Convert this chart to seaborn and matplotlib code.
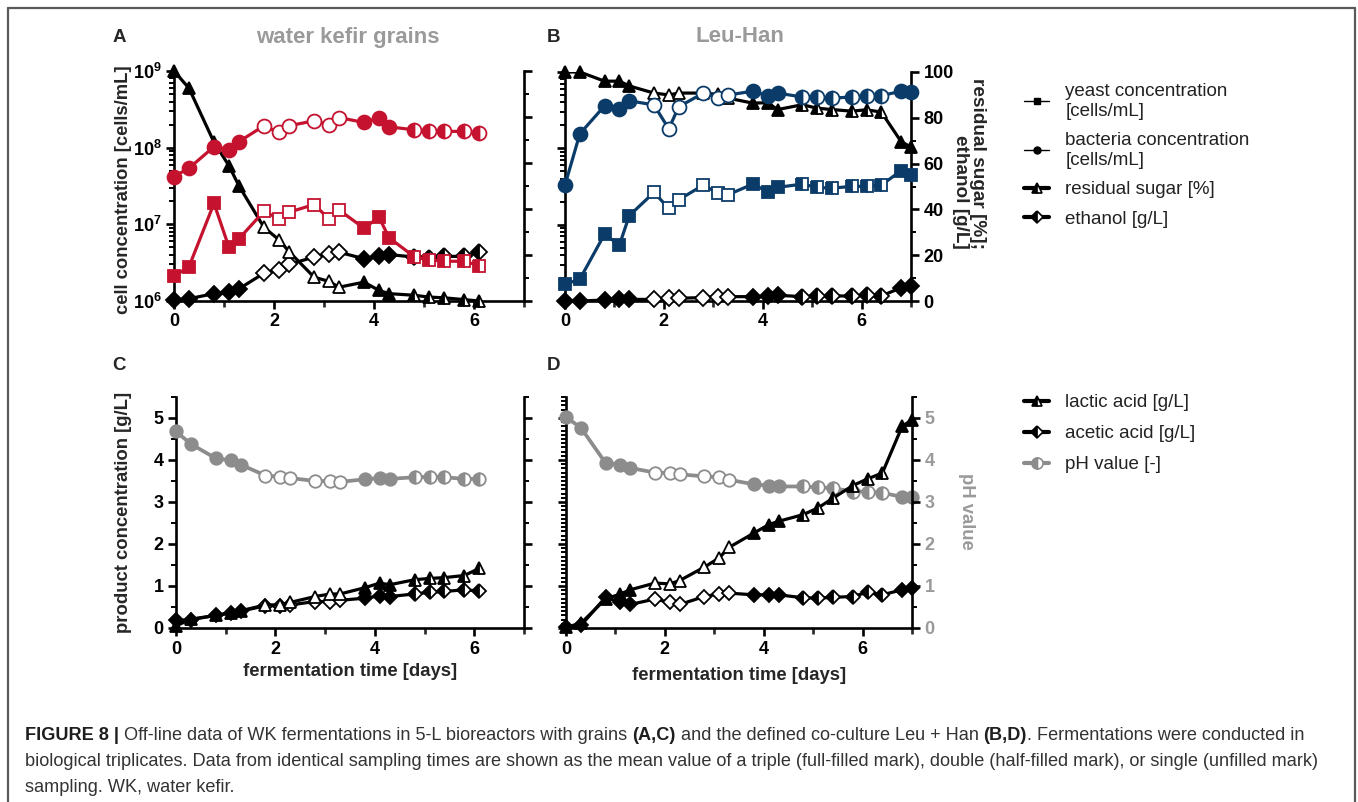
import numpy as np
import pandas as pd
import matplotlib
matplotlib.use("Agg")
import matplotlib.pyplot as plt
import seaborn as sns
from matplotlib.lines import Line2D
from matplotlib.ticker import MultipleLocator, FixedLocator, LogLocator, NullFormatter, FuncFormatter

# ---------------- data ----------------
days_wk = [0, 0.3, 0.8, 1.1, 1.3, 1.8, 2.1, 2.3, 2.8, 3.1, 3.3, 3.8, 4.1, 4.3, 4.8, 5.1, 5.4, 5.8, 6.1]
days_lh = [0, 0.3, 0.8, 1.1, 1.3, 1.8, 2.1, 2.3, 2.8, 3.1, 3.3, 3.8, 4.1, 4.3, 4.8, 5.1, 5.4, 5.8, 6.1, 6.4, 6.8, 7.0]
# F = triple (full), H = double (half), O = single (unfilled)
fill_wk = list("FFFFFOOOOOOFFFHHHHH")
fill_lh = list("FFFFFOOOOOOFFFHHHHHHFF")

wk_yeast = [2.1e6, 2.8e6, 1.88e7, 5.0e6, 6.5e6, 1.48e7, 1.18e7, 1.44e7, 1.81e7, 1.18e7, 1.54e7,
            8.9e6, 1.24e7, 6.7e6, 3.8e6, 3.45e6, 3.3e6, 3.3e6, 2.9e6]
wk_bacteria = [4.2e7, 5.4e7, 1.03e8, 9.4e7, 1.2e8, 1.93e8, 1.58e8, 1.93e8, 2.24e8, 2.0e8, 2.47e8,
               2.13e8, 2.47e8, 1.87e8, 1.71e8, 1.66e8, 1.63e8, 1.63e8, 1.55e8]
wk_sugar = [100, 92.5, 69, 58.8, 50, 32, 26.6, 21.5, 10.4, 8.5, 6, 8.2, 4.6, 3.2, 2.5, 1.7, 1.4, 0.6, 0]
wk_ethanol = [0.3, 1.0, 3.2, 3.9, 5.3, 12.1, 13.3, 15.9, 19.1, 20.5, 21.2, 18.4, 19.4, 20.2, 19.1,
              18.8, 19.4, 19.4, 21.2]

lh_yeast = [1.66e6, 1.93e6, 7.5e6, 5.4e6, 1.31e7, 2.65e7, 1.63e7, 2.12e7, 3.3e7, 2.57e7, 2.47e7,
            3.4e7, 2.7e7, 3.08e7, 3.4e7, 3.08e7, 3.0e7, 3.18e7, 3.18e7, 3.3e7, 5.1e7, 4.5e7]
lh_bacteria = [3.3e7, 1.55e8, 3.6e8, 3.3e8, 4.2e8, 3.7e8, 1.8e8, 3.5e8, 5.3e8, 4.55e8, 5.0e8,
               5.6e8, 4.9e8, 5.3e8, 4.7e8, 4.7e8, 4.55e8, 4.7e8, 4.9e8, 4.9e8, 5.6e8, 5.5e8]
lh_sugar = [100, 100, 96, 96, 93.9, 90.8, 90, 90.8, 90.8, 90.2, 88.6, 86.4, 86.6, 83.6, 85.7, 84.2,
            83.6, 82.9, 83.5, 82.5, 69.6, 67.2]
lh_ethanol = [0, 0, 0.4, 0.7, 0.7, 0.7, 1.5, 1.2, 1.5, 1.9, 1.9, 1.9, 2.2, 2.5, 1.9, 2.2, 2.2, 2.2,
              2.5, 2.2, 5.8, 6.6]

wk_lactic = [0.05, 0.21, 0.30, 0.36, 0.41, 0.55, 0.55, 0.61, 0.75, 0.81, 0.81, 0.96, 1.07, 1.03,
             1.15, 1.18, 1.20, 1.25, 1.42]
wk_acetic = [0.18, 0.20, 0.30, 0.36, 0.40, 0.53, 0.53, 0.55, 0.63, 0.63, 0.66, 0.71, 0.77, 0.75,
             0.81, 0.85, 0.87, 0.91, 0.88]
wk_ph = [4.68, 4.38, 4.04, 3.99, 3.89, 3.63, 3.60, 3.57, 3.50, 3.50, 3.48, 3.54, 3.57, 3.55, 3.59,
         3.60, 3.59, 3.55, 3.55]

lh_lactic = [0.02, 0.11, 0.69, 0.81, 0.91, 1.07, 1.05, 1.13, 1.45, 1.67, 1.92, 2.26, 2.46, 2.54,
             2.70, 2.86, 3.09, 3.39, 3.55, 3.69, 4.80, 4.96]
lh_acetic = [0.02, 0.06, 0.73, 0.61, 0.56, 0.69, 0.61, 0.56, 0.75, 0.81, 0.83, 0.79, 0.79, 0.79,
             0.72, 0.71, 0.73, 0.75, 0.85, 0.79, 0.91, 0.95]
lh_ph = [5.02, 4.77, 3.93, 3.89, 3.81, 3.70, 3.69, 3.66, 3.61, 3.59, 3.53, 3.42, 3.39, 3.37, 3.37,
         3.35, 3.33, 3.25, 3.25, 3.22, 3.12, 3.12]

legend_top = ["yeast concentration\n[cells/mL]", "bacteria concentration\n[cells/mL]",
              "residual sugar [%]", "ethanol [g/L]"]
legend_bottom = ["lactic acid [g/L]", "acetic acid [g/L]", "pH value [-]"]
titles = ["water kefir grains", "Leu-Han"]
panel_labels = ["A", "B", "C", "D"]

# ---------------- style ----------------
sns.set_theme(style="ticks")
plt.rcParams["font.family"] = ["Liberation Sans", "DejaVu Sans"]
plt.rcParams["mathtext.fontset"] = "custom"
plt.rcParams["mathtext.rm"] = "Liberation Sans:bold"
plt.rcParams["mathtext.it"] = "Liberation Sans:bold"
plt.rcParams["mathtext.bf"] = "Liberation Sans:bold"

RED = "#C4122F"
BLUE = "#0B3C69"
GRAY = "#8C8C8C"
LGRAY = "#9A9A9A"
BLACK = "#000000"
SPW = 1.9
TICK_FS = 13
LABEL_FS = 13.3

W, H = 1358, 802
fig = plt.figure(figsize=(W / 100, H / 100), dpi=100)


def px_rect(l, t, r, b):
    return [l / W, 1 - b / H, (r - l) / W, (b - t) / H]


def draw_series(ax, x, y, fills, color, marker, ms, lw, z):
    df = pd.DataFrame({"t": x, "v": y})
    sns.lineplot(data=df, x="t", y="v", ax=ax, color=color, lw=lw, zorder=z,
                 sort=False, estimator=None, legend=False)
    styles = {
        "F": dict(fillstyle="full", markerfacecolor=color),
        "O": dict(fillstyle="full", markerfacecolor="white"),
        "H": dict(fillstyle="left", markerfacecolor=color, markerfacecoloralt="white"),
    }
    for code, kw in styles.items():
        idx = [i for i, f in enumerate(fills) if f == code]
        if idx:
            ax.plot([x[i] for i in idx], [y[i] for i in idx], ls="none", marker=marker,
                    ms=ms, mec=color, mew=1.3, zorder=z + 0.5, clip_on=False, **kw)
    ax.set_xlabel("")
    ax.set_ylabel("")


def style_x(ax):
    ax.set_xlim(0, 7)
    ax.xaxis.set_major_locator(FixedLocator([0, 2, 4, 6]))
    ax.xaxis.set_minor_locator(FixedLocator([1, 3, 5, 7]))
    ax.tick_params(axis="x", which="major", direction="out", length=6, width=SPW,
                   labelsize=TICK_FS, pad=3, colors=BLACK)
    ax.tick_params(axis="x", which="minor", direction="out", length=4, width=SPW)
    for lab in ax.get_xticklabels():
        lab.set_fontweight("bold")


def tick_style(ax, labelcolor=BLACK):
    ax.tick_params(axis="y", which="major", direction="out", length=6, width=SPW,
                   labelsize=TICK_FS, pad=3, labelcolor=labelcolor, color=BLACK)
    ax.tick_params(axis="y", which="minor", direction="out", length=3.5, width=1.4, color=BLACK)
    for lab in ax.get_yticklabels():
        lab.set_fontweight("bold")


def spines(ax, show):
    for s in ["left", "right", "top", "bottom"]:
        ax.spines[s].set_visible(s in show)
        ax.spines[s].set_linewidth(SPW)
        ax.spines[s].set_color(BLACK)


def log_fmt(v, pos):
    return r"$10^{%d}$" % int(round(np.log10(v)))


def top_panel(rect, days, fills, yeast, bacteria, sugar, ethanol, color, show_left_labels,
              show_right_labels):
    base = fig.add_axes(rect)
    base.set_facecolor("none")
    cells = base.twinx()
    # base: sugar / ethanol (linear, right side)
    draw_series(base, days, ethanol, fills, BLACK, "D", 8.0, 2.3, 3)
    draw_series(base, days, sugar, fills, BLACK, "^", 8.5, 2.3, 4)
    base.set_ylim(0, 100)
    base.yaxis.tick_right()
    base.yaxis.set_major_locator(MultipleLocator(20))
    base.yaxis.set_minor_locator(MultipleLocator(10))
    if not show_right_labels:
        base.yaxis.set_major_formatter(NullFormatter())
    spines(base, ["bottom", "right"])
    style_x(base)
    tick_style(base)
    # twin: cells (log, left side)
    cells.set_yscale("log")
    draw_series(cells, days, yeast, fills, color, "s", 9.0, 2.3, 5)
    draw_series(cells, days, bacteria, fills, color, "o", 10.0, 2.3, 6)
    cells.set_ylim(1e6, 1e9)
    cells.yaxis.tick_left()
    cells.yaxis.set_major_locator(FixedLocator([1e6, 1e7, 1e8, 1e9]))
    cells.yaxis.set_minor_locator(LogLocator(base=10, subs=np.arange(2, 10)))
    cells.yaxis.set_minor_formatter(NullFormatter())
    if show_left_labels:
        cells.yaxis.set_major_formatter(FuncFormatter(log_fmt))
    else:
        cells.yaxis.set_major_formatter(NullFormatter())
    spines(cells, ["left"])
    tick_style(cells)
    base.grid(False)
    cells.grid(False)
    return base, cells


def bottom_panel(rect, days, fills, lactic, acetic, ph, show_left_labels, dense_left):
    ax = fig.add_axes(rect)
    ax.set_facecolor("none")
    draw_series(ax, days, ph, fills, GRAY, "o", 9.0, 2.7, 3)
    draw_series(ax, days, acetic, fills, BLACK, "D", 7.5, 2.3, 4)
    draw_series(ax, days, lactic, fills, BLACK, "^", 8.5, 2.3, 5)
    ax.set_ylim(0, 5.5)
    ax.yaxis.set_major_locator(FixedLocator([0, 1, 2, 3, 4, 5]))
    ax.yaxis.set_minor_locator(MultipleLocator(0.1 if dense_left else 0.5))
    if not show_left_labels:
        ax.yaxis.set_major_formatter(NullFormatter())
    spines(ax, ["left", "bottom"])
    style_x(ax)
    tick_style(ax)
    ax.grid(False)
    r = ax.twinx()
    r.set_ylim(0, 5.5)
    r.yaxis.set_major_locator(FixedLocator([0, 1, 2, 3, 4, 5]))
    r.yaxis.set_minor_locator(MultipleLocator(0.5))
    spines(r, ["right"])
    r.grid(False)
    return ax, r


# ---------------- panels ----------------
axA, axA2 = top_panel(px_rect(174, 71, 524, 301), days_wk, fill_wk, wk_yeast, wk_bacteria,
                      wk_sugar, wk_ethanol, RED, True, False)
axB, axB2 = top_panel(px_rect(565, 72, 911, 301), days_lh, fill_lh, lh_yeast, lh_bacteria,
                      lh_sugar, lh_ethanol, BLUE, False, True)
axC, axC2 = bottom_panel(px_rect(176, 397, 524, 628), days_wk, fill_wk, wk_lactic, wk_acetic,
                         wk_ph, True, False)
axC2.yaxis.set_major_formatter(NullFormatter())
tick_style(axC2)
axD, axD2 = bottom_panel(px_rect(566, 397, 912, 628), days_lh, fill_lh, lh_lactic, lh_acetic,
                         lh_ph, False, True)
tick_style(axD2, labelcolor=LGRAY)

# ---------------- texts ----------------
def ftext(x, y, s, **kw):
    return fig.text(x / W, 1 - y / H, s, **kw)

for (x, y), lab in zip([(119, 38), (553, 38), (119, 366), (553, 366)], panel_labels):
    ftext(x, y, lab, fontsize=13.5, fontweight="bold", ha="center", va="center")
ftext(348, 37, titles[0], fontsize=16, fontweight="bold", color=LGRAY, ha="center", va="center")
ftext(740, 37, titles[1], fontsize=16, fontweight="bold", color=LGRAY, ha="center", va="center")

ftext(124, 190, "cell concentration [cells/mL]", fontsize=LABEL_FS, fontweight="bold",
      rotation=90, ha="center", va="center")
ftext(124, 512, "product concentration [g/L]", fontsize=LABEL_FS, fontweight="bold",
      rotation=90, ha="center", va="center")
ftext(969, 163, "residual sugar [%];\nethanol [g/L]", fontsize=LABEL_FS + 0.4, fontweight="bold",
      rotation=270, ha="center", va="center", multialignment="right", linespacing=1.0)
ftext(967, 511, "pH value", fontsize=LABEL_FS, fontweight="bold", color=LGRAY,
      rotation=270, ha="center", va="center")
ftext(350, 672, "fermentation time [days]", fontsize=LABEL_FS, fontweight="bold",
      ha="center", va="center")
ftext(739, 676, "fermentation time [days]", fontsize=LABEL_FS, fontweight="bold",
      ha="center", va="center")

# ---------------- legends ----------------
def handle(color, marker, ms, lw, half=True):
    if half:
        return Line2D([], [], color=color, lw=lw, marker=marker, ms=ms, mec=color, mew=1.2,
                      fillstyle="left", markerfacecolor=color, markerfacecoloralt="white")
    return Line2D([], [], color=color, lw=lw, marker=marker, ms=ms, mec=color,
                  markerfacecolor=color)

LEG_FS = 13.5
h_top = [handle(BLACK, "s", 4.5, 1.0, False), handle(BLACK, "o", 5, 1.0, False),
         handle(BLACK, "^", 7.5, 3.0), handle(BLACK, "D", 6.5, 3.0)]
leg1 = fig.legend(h_top, legend_top, loc="upper left", bbox_to_anchor=(1024 / W, 1 - 83 / H),
                  frameon=False, fontsize=LEG_FS, handlelength=1.35, handletextpad=0.85,
                  labelspacing=0.66, borderpad=0, borderaxespad=0)
h_bot = [handle(BLACK, "^", 7.5, 3.0), handle(BLACK, "D", 6.5, 3.0), handle(GRAY, "o", 8, 3.0)]
leg2 = fig.legend(h_bot, legend_bottom, loc="upper left", bbox_to_anchor=(1024 / W, 1 - 394 / H),
                  frameon=False, fontsize=LEG_FS, handlelength=1.35, handletextpad=0.85,
                  labelspacing=0.74, borderpad=0, borderaxespad=0)
for lg in (leg1, leg2):
    for t in lg.get_texts():
        t.set_color("#222222")
        t.set_linespacing(1.2)

# ---------------- border ----------------
BORDER = "#5A5A5A"
for xs, ys in [([8, 8], [8, 802]), ([8, 1355], [8, 8]), ([1355, 1355], [8, 802])]:
    fig.add_artist(Line2D([x / W for x in xs], [1 - y / H for y in ys], color=BORDER, lw=1.6,
                          transform=fig.transFigure))

# ---------------- caption ----------------
caption_lines = [
    [("FIGURE 8 | ", True), ("Off-line data of WK fermentations in 5-L bioreactors with grains ", False),
     ("(A,C)", True), (" and the defined co-culture Leu + Han ", False), ("(B,D)", True),
     (". Fermentations were conducted in", False)],
    [("biological triplicates. Data from identical sampling times are shown as the mean value of a triple "
      "(full-filled mark), double (half-filled mark), or single (unfilled mark)", False)],
    [("sampling. WK, water kefir.", False)],
]
renderer = fig.canvas.get_renderer()


def line_width(pieces, size):
    total = 0
    for s, b in pieces:
        t = fig.text(0, 0, s, fontsize=size, fontweight="bold" if b else "normal")
        total += t.get_window_extent(renderer).width
        t.remove()
    return total

base_size = 12
wfirst = line_width(caption_lines[0], base_size)
cap_size = base_size * (1310 - 25) / wfirst
for pieces, y in zip(caption_lines, [736, 762, 787]):
    x = 25
    for s, b in pieces:
        t = ftext(x, y, s, fontsize=cap_size, fontweight="bold" if b else "normal",
                  ha="left", va="center", color="#1E1E1E" if b else "#333333")
        x += t.get_window_extent(renderer).width

fig.savefig("out.png", dpi=100)
